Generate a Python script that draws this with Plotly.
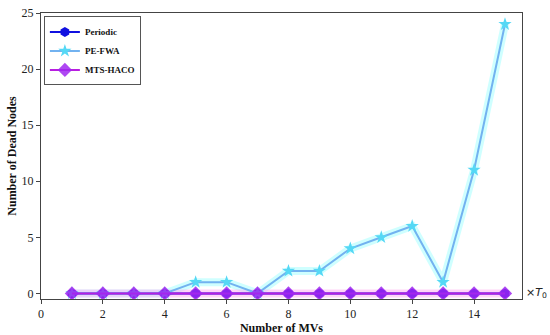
import plotly.graph_objects as go

mvs = list(range(1, 16))
periodic = [0]*15
pe_fwa = [0, 0, 0, 0, 1, 1, 0, 2, 2, 4, 5, 6, 1, 11, 24]
mts_haco = [0]*15

FONT = "Liberation Serif, Times New Roman, serif"

fig = go.Figure()
# glow layers
fig.add_trace(go.Scatter(x=mvs, y=pe_fwa, mode="lines", line=dict(color="rgba(160,255,255,0.5)", width=8),
                         showlegend=False, hoverinfo="skip"))
fig.add_trace(go.Scatter(x=mvs, y=mts_haco, mode="lines", line=dict(color="rgba(255,170,240,0.5)", width=8),
                         showlegend=False, hoverinfo="skip"))

fig.add_trace(go.Scatter(x=mvs, y=periodic, mode="lines+markers", name="Periodic",
                         line=dict(color="#1010e0", width=2),
                         marker=dict(symbol="hexagon", size=10, color="#1010e0")))
fig.add_trace(go.Scatter(x=mvs, y=pe_fwa, mode="lines+markers", name="PE-FWA",
                         line=dict(color="#72b2f0", width=2),
                         marker=dict(symbol="star", size=10, color="#55d8f5")))
fig.add_trace(go.Scatter(x=mvs, y=mts_haco, mode="lines+markers", name="MTS-HACO",
                         line=dict(color="#b81ee0", width=2),
                         marker=dict(symbol="diamond", size=11, color="#a028f0", opacity=0.85)))

fig.add_annotation(text="×<i>T</i><sub>0</sub>", xref="paper", yref="y", x=1.005, y=0,
                   xanchor="left", yanchor="middle", showarrow=False,
                   font=dict(family="DejaVu Sans, sans-serif", size=11, color="#222"))

fig.update_layout(
    width=550, height=335,
    margin=dict(l=41, r=28, t=13, b=36, autoexpand=False),
    plot_bgcolor="white", paper_bgcolor="white",
    font=dict(family=FONT, size=12, color="#222"),
    showlegend=True,
    legend=dict(x=0.006, y=0.988, xanchor="left", yanchor="top",
                bgcolor="white", bordercolor="#555", borderwidth=1,
                font=dict(family=FONT, size=9, color="#111", weight="bold"),
                itemwidth=30, tracegroupgap=0),
    xaxis=dict(range=[0, 15.55], tickvals=[0, 2, 4, 6, 8, 10, 12, 14], automargin=False,
               showline=True, linecolor="#444", linewidth=1, mirror=True,
               ticks="outside", ticklen=4, tickcolor="#444", showgrid=False, zeroline=False,
               title=dict(text="<b>Number of MVs</b>", font=dict(family=FONT, size=12, color="#111"), standoff=0)),
    yaxis=dict(range=[-0.5, 25], tickvals=[0, 5, 10, 15, 20, 25], automargin=False,
               showline=True, linecolor="#444", linewidth=1, mirror=True,
               ticks="outside", ticklen=4, tickcolor="#444", showgrid=False, zeroline=False,
               title=dict(text="<b>Number of Dead Nodes</b>", font=dict(family=FONT, size=12, color="#111"), standoff=2)),
)

fig.write_html("out.html", config={"displayModeBar": False},
               post_script="document.body.style.margin='0';document.body.style.padding='0';")
